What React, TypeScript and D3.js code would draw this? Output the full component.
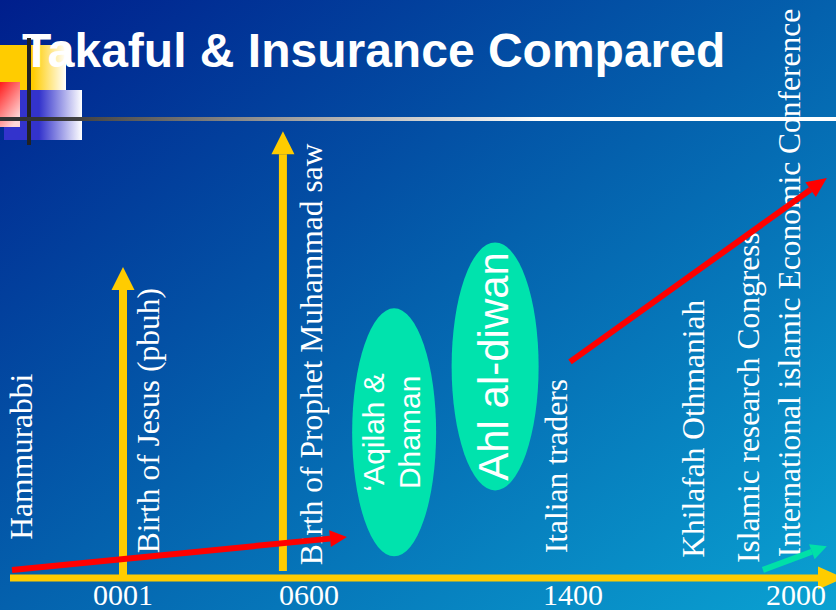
import React from "react";
import * as d3 from "d3";

// ---- data ----
const tickYears = [1, 600, 1400, 2000];
const tickLabels = ["0001", "0600", "1400", "2000"];

// events drawn as rotated text labels (timeline position in "years")
const eventLabels = [
  "Hammurabbi",
  "Birth of Jesus (pbuh)",
  "Birth of Prophet Muhammad saw",
  "Italian traders",
  "Khilafah Othmaniah",
  "Islamic research Congress",
  "International islamic Economic Conference",
];
const eventYears = [-1770, 117, 638, 1382, 1752, 1900, 2011];
const eventLabelLevel = [6.6, 4.3, 2.2, 4.3, 3.5, 2.6, 3.6];

// vertical milestone arrows
const milestoneYears = [1, 516];
const milestoneHeights = [53.8, 77.3];
const milestoneBase = [0, 1.2];

// ovals
const ovalLines = [["\u2018Aqilah &", "Dhaman"], ["Ahl al-diwan"]];
const ovalYears = [858, 1164];
const ovalCenters = [25.2, 36.6];

// trend arrows [startYear, startLevel, endYear, endLevel]
const redArrow1 = [-2161, 1.4, 715, 7.1];
const redArrow2 = [1391, 37.4, 2083, 69.2];
const greenArrow = [1911, 1.4, 2083, 5.5];

const W = 836;
const H = 610;

const xs = d3.scaleLinear().domain([-2200, 1, 600, 1400, 2000]).range([10, 123, 309, 573, 796]);
const ys = d3.scaleLinear().domain([0, 100]).range([578, 0]);

function headed(x1: number, y1: number, x2: number, y2: number, len: number, half: number) {
  const dx = x2 - x1, dy = y2 - y1;
  const L = Math.hypot(dx, dy);
  const ux = dx / L, uy = dy / L;
  const bx = x2 - ux * len, by = y2 - uy * len;
  const px = -uy, py = ux;
  const head = [
    [x2, y2],
    [bx + px * half, by + py * half],
    [bx - px * half, by - py * half],
  ];
  return { bx, by, head: head.map((p) => p.join(",")).join(" ") };
}

const serif = "'Liberation Serif', 'Times New Roman', Times, serif";
const sans = "'Liberation Sans', Arial, Helvetica, sans-serif";

function TrendArrow({ a, color, len, half, width }: any) {
  const x1 = xs(a[0]), y1 = ys(a[1]), x2 = xs(a[2]), y2 = ys(a[3]);
  const h = headed(x1, y1, x2, y2, len, half);
  return (
    <g>
      <line x1={x1} y1={y1} x2={h.bx} y2={h.by} stroke={color} strokeWidth={width} />
      <polygon points={h.head} fill={color} />
    </g>
  );
}

export default function App() {
  const axisStart = xs(-2200);
  const axisHead = headed(axisStart, ys(0), 844, ys(0), 26, 11.5);
  return (
    <svg
      width={W}
      height={H}
      style={{ position: "absolute", left: 0, top: 0, display: "block" }}
      xmlns="http://www.w3.org/2000/svg"
    >
      <defs>
        <linearGradient id="bg" x1="0" y1="0" x2="1" y2="1">
          <stop offset="0" stopColor="#001e8c" />
          <stop offset="0.5" stopColor="#0461ad" />
          <stop offset="1" stopColor="#0aa2d2" />
        </linearGradient>
        <linearGradient id="yel" x1="0" y1="0" x2="1" y2="0">
          <stop offset="0.5" stopColor="#ffcc00" />
          <stop offset="1" stopColor="#ffffff" />
        </linearGradient>
        <linearGradient id="blu" x1="0" y1="0" x2="1" y2="0">
          <stop offset="0.45" stopColor="#3333cc" />
          <stop offset="1" stopColor="#ffffff" />
        </linearGradient>
        <linearGradient id="red" x1="0" y1="0" x2="0.6" y2="1">
          <stop offset="0" stopColor="#ff1a1a" />
          <stop offset="1" stopColor="#ffd8d8" />
        </linearGradient>
        <linearGradient id="rule" x1="0" y1="0" x2="1" y2="0">
          <stop offset="0.05" stopColor="#333333" />
          <stop offset="0.35" stopColor="#a0a0a0" />
          <stop offset="0.65" stopColor="#ffffff" />
          <stop offset="1" stopColor="#ffffff" />
        </linearGradient>
      </defs>
      <rect x={0} y={0} width={W} height={H} fill="url(#bg)" />

      {/* decoration */}
      <rect x={0} y={45} width={66} height={46} fill="url(#yel)" />
      <rect x={4} y={90} width={78} height={50} fill="url(#blu)" />
      <rect x={0} y={82} width={20} height={45} fill="url(#red)" />

      <text x={22} y={67} fill="#ffffff" fontFamily={sans} fontWeight="bold" fontSize={48}>
        Takaful &amp; Insurance Compared
      </text>

      <rect x={27} y={38} width={4} height={107} fill="#222222" />
      <rect x={0} y={117} width={W} height={4} fill="url(#rule)" />

      {/* ovals */}
      {ovalLines.map((lines, i) => {
        const cx = xs(ovalYears[i]);
        const cy = ys(ovalCenters[i]);
        const big = lines.length === 1;
        return (
          <g key={"o" + i}>
            <ellipse cx={cx} cy={cy} rx={big ? 43.5 : 42} ry={124} fill="#00e3ad" />
            <g transform={`translate(${cx},${cy}) rotate(-90)`}>
              {lines.map((t, j) => (
                <text
                  key={j}
                  x={0}
                  y={big ? 12.5 : j === 0 ? -10 : 26}
                  textAnchor="middle"
                  fill="#ffffff"
                  fontFamily={sans}
                  fontSize={big ? 42 : 30}
                >
                  {t}
                </text>
              ))}
            </g>
          </g>
        );
      })}

      {/* vertical milestone arrows */}
      {milestoneYears.map((yr, i) => {
        const cx = xs(yr);
        const top = ys(milestoneHeights[i]);
        const bottom = ys(milestoneBase[i]);
        const h = headed(cx, bottom, cx, top, 23, 11.5);
        return (
          <g key={"m" + i}>
            <line x1={cx} y1={bottom} x2={cx} y2={h.by} stroke="#ffcc00" strokeWidth={8} />
            <polygon points={h.head} fill="#ffcc00" />
          </g>
        );
      })}

      {/* horizontal time axis */}
      <line x1={axisStart} y1={ys(0)} x2={axisHead.bx} y2={ys(0)} stroke="#ffcc00" strokeWidth={7} />
      <polygon points={axisHead.head} fill="#ffcc00" />

      {/* event labels */}
      {eventLabels.map((t, i) => (
        <text
          key={"e" + i}
          transform={`translate(${xs(eventYears[i])},${ys(eventLabelLevel[i])}) rotate(-90)`}
          fill="#ffffff"
          fontFamily={serif}
          fontSize={31.5}
        >
          {t}
        </text>
      ))}

      {/* tick labels */}
      {tickYears.map((yr, i) => (
        <text
          key={"t" + i}
          x={xs(yr)}
          y={605}
          textAnchor="middle"
          fill="#ffffff"
          fontFamily={serif}
          fontSize={30}
        >
          {tickLabels[i]}
        </text>
      ))}

      <TrendArrow a={redArrow1} color="#ff0000" len={17} half={8.5} width={6} />
      <TrendArrow a={redArrow2} color="#ff0000" len={20} half={9} width={6} />
      <TrendArrow a={greenArrow} color="#00e0a8" len={16} half={8} width={6} />
    </svg>
  );
}
